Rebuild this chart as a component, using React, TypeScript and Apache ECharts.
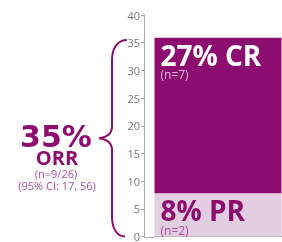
import React, { useEffect, useRef } from "react";
import * as echarts from "echarts";

const categories = ["ORR"];
const prValues = [7.8];
const crValues = [28.1];
const yMin = 0;
const yMax = 40;
const yInterval = 5;
const braceRange = [0, 35.5];
const crText = ["27% CR", "(n=7)"];
const prText = ["8% PR", "(n=2)"];
const orrText = ["35%", "ORR", "(n=9/26)", "(95% CI: 17, 56)"];

const DARK = "#8C0C6F";
const LIGHT = "#E3CDE1";
const MID = "#A94B9F";
const AXIS = "#aaa";
const FONT = "'Open Sans', sans-serif";

export default function App() {
  const ref = useRef<HTMLDivElement>(null);
  useEffect(() => {
    document.body.style.margin = "0";
    if (!ref.current) return;
    const chart = echarts.init(ref.current, undefined, { renderer: "svg" });
    chart.setOption({
      animation: false,
      grid: { left: 154, right: 0, top: 15, bottom: 4, containLabel: false },
      xAxis: {
        type: "category",
        data: categories,
        axisLine: { show: true, lineStyle: { color: AXIS, width: 1 } },
        axisTick: { show: false },
        axisLabel: { show: false },
      },
      yAxis: {
        type: "value",
        min: yMin,
        max: yMax,
        interval: yInterval,
        offset: 10,
        splitLine: { show: false },
        axisLine: { show: true, lineStyle: { color: AXIS, width: 1 } },
        axisTick: { show: true, length: 3, lineStyle: { color: AXIS } },
        axisLabel: { color: "#777", fontSize: 11, fontFamily: FONT, margin: 4 },
      },
      series: [
        {
          type: "bar",
          stack: "r",
          data: prValues,
          barWidth: 127,
          itemStyle: { color: LIGHT },
          label: {
            show: true,
            position: "insideTopLeft",
            distance: 3,
            offset: [3, 0],
            formatter: `{a|${prText[0]}}\n{b|${prText[1]}}`,
            rich: {
              a: { fontSize: 28, fontWeight: "bold", color: DARK, fontFamily: FONT, lineHeight: 28 },
              b: { fontSize: 12, color: MID, fontFamily: FONT, lineHeight: 12 },
            },
          },
        },
        {
          type: "bar",
          stack: "r",
          data: crValues,
          barWidth: 127,
          itemStyle: { color: DARK },
          label: {
            show: true,
            position: "insideTopLeft",
            distance: 3,
            offset: [3, 0],
            formatter: `{a|${crText[0]}}\n{b|${crText[1]}}`,
            rich: {
              a: { fontSize: 28, fontWeight: "bold", color: "#fff", fontFamily: FONT, lineHeight: 28 },
              b: { fontSize: 12, color: "#E8B6DE", fontFamily: FONT, lineHeight: 12 },
            },
          },
        },
      ],
    });
    const T = chart.convertToPixel({ yAxisIndex: 0 }, braceRange[1]) as number;
    const B = chart.convertToPixel({ yAxisIndex: 0 }, braceRange[0]) as number;
    const M = (T + B) / 2;
    const d = `M127,${T} C118,${T} 112,${T + 8} 112,${T + 20} L112,${M - 12} C112,${M - 5} 107,${M - 1} 99,${M} C107,${M + 1} 112,${M + 5} 112,${M + 12} L112,${B - 20} C112,${B - 8} 117,${B} 125,${B}`;
    echarts.graphic.registerShape("brace", echarts.graphic.extendPath(d, {}) as any);
    const zeroY = Math.round(B) + 0.5;
    chart.setOption({
      graphic: [
        { type: "line", shape: { x1: 144, y1: zeroY, x2: 154, y2: zeroY }, style: { stroke: AXIS, lineWidth: 1 } },
        { type: "brace", x: 0, y: 0, style: { fill: "none", stroke: DARK, lineWidth: 2 } },
        { type: "text", x: 56, y: 136, style: { text: orrText[0], fill: DARK, font: "bold 30px 'DejaVu Sans', sans-serif", textAlign: "center", textVerticalAlign: "middle" } },
        { type: "text", x: 57, y: 157, style: { text: orrText[1], fill: DARK, font: `bold 20px ${FONT}`, textAlign: "center", textVerticalAlign: "middle" } },
        { type: "text", x: 56, y: 173, style: { text: orrText[2], fill: MID, font: `11px ${FONT}`, textAlign: "center", textVerticalAlign: "middle" } },
        { type: "text", x: 57, y: 185, style: { text: orrText[3], fill: MID, font: `11px ${FONT}`, textAlign: "center", textVerticalAlign: "middle" } },
      ],
    });
    return () => chart.dispose();
  }, []);
  return <div ref={ref} style={{ width: 282, height: 242, position: "fixed", left: 0, top: 0 }} />;
}
